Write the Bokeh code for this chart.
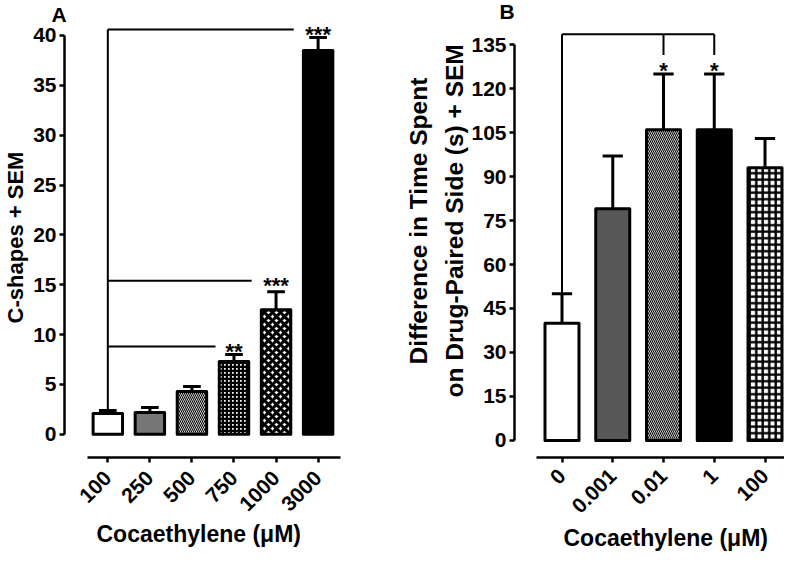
import math
import numpy as np
from bokeh.plotting import figure
from bokeh.layouts import row
from bokeh.models import Range1d, FixedTicker, ColumnDataSource, Title
from bokeh.core.properties import value
from bokeh.embed import file_html
from bokeh.resources import INLINE

FONT = "Liberation Sans"

# ---------------- data: panel A ----------------
a_labels = ["100", "250", "500", "750", "1000", "3000"]
a_means = [2.1, 2.2, 4.3, 7.3, 12.5, 38.5]
a_sem = [0.3, 0.5, 0.5, 0.7, 1.8, 1.3]
a_yticks = [0, 5, 10, 15, 20, 25, 30, 35, 40]
a_sig_targets = [3, 4, 5]
a_sig_levels = [8.8, 15.4, 40.6]
a_sig_marks = ["**", "***", "***"]

# ---------------- data: panel B ----------------
b_labels = ["0", "0.001", "0.01", "1", "100"]
b_means = [40, 79, 106, 106, 93]
b_sem = [10, 18, 19, 19, 10]
b_yticks = [0, 15, 30, 45, 60, 75, 90, 105, 120, 135]
b_sig_targets = [2, 3]
b_sig_level = 138.5
b_sig_drop = 131.5
b_sig_marks = ["*", "*"]

x_title = "Cocaethylene (\u03bcM)"
a_ytitle = "C-shapes + SEM"
b_ytitle = ["Difference in Time Spent", "on Drug-Paired Side (s) + SEM"]

# ---------------- styles ----------------
a_fill = ["white", "#777777", "white", "white", "white", "black"]
a_hatch = ["blank", "blank", "left_diagonal_line", "cross", "diagonal_cross", "blank"]
a_hscale = [6, 6, 4, 4, 8, 6]
a_hweight = [1, 1, 1.1, 2.6, 3.2, 1]

b_fill = ["white", "#585858", "white", "black", "white"]
b_hatch = ["blank", "blank", "left_diagonal_line", "blank", "cross"]
b_hscale = [6, 6, 4, 6, 6.5]
b_hweight = [1, 1, 1.1, 1, 2.4]


def style_axes(p, yticks, xbounds, ybounds, labels, xstandoff):
    p.outline_line_color = None
    p.xgrid.grid_line_color = None
    p.ygrid.grid_line_color = None
    p.background_fill_color = "white"
    p.border_fill_color = "white"
    for ax in (p.xaxis[0], p.yaxis[0]):
        ax.axis_line_width = 2.5
        ax.axis_line_color = "black"
        ax.major_tick_line_width = 2.5
        ax.major_tick_line_color = "black"
        ax.major_tick_out = 5
        ax.major_tick_in = 0
        ax.minor_tick_line_color = None
        ax.major_label_text_font = FONT
        ax.major_label_text_font_style = "bold"
        ax.major_label_text_font_size = "21px"
        ax.major_label_text_color = "black"
    p.yaxis[0].ticker = FixedTicker(ticks=yticks)
    p.yaxis[0].bounds = ybounds
    p.yaxis[0].major_label_standoff = 3
    p.xaxis[0].ticker = FixedTicker(ticks=list(range(len(labels))))
    p.xaxis[0].major_label_overrides = {i: s for i, s in enumerate(labels)}
    p.xaxis[0].major_label_orientation = math.pi / 4
    p.xaxis[0].bounds = xbounds
    p.xaxis[0].major_label_standoff = xstandoff


def add_title(p, text, side, size, align="left", offset=0, standoff=10,
              valign="bottom"):
    t = Title(text=text, align=align, offset=offset, standoff=standoff,
              vertical_align=valign, text_font=FONT, text_font_style="bold",
              text_font_size=size, text_color="black")
    p.add_layout(t, side)


def bars(p, means, sem, fill, hatch, hscale, hweight, width, cap):
    n = len(means)
    x = np.arange(n)
    m = np.array(means, dtype=float)
    top = m + np.array(sem, dtype=float)
    src = ColumnDataSource(dict(x=x, top=m, fill=fill, hatch=hatch,
                                hscale=hscale, hweight=hweight))
    p.vbar(x="x", top="top", bottom=0, width=width, source=src,
           fill_color="fill", line_color="black", line_width=3,
           line_join="round", hatch_pattern="hatch", hatch_color="black",
           hatch_scale="hscale", hatch_weight="hweight")
    p.segment(x0=x, y0=m, x1=x, y1=top, line_color="black", line_width=3)
    p.segment(x0=x - cap, y0=top, x1=x + cap, y1=top, line_color="black",
              line_width=3)
    return top


# ---------------- panel A ----------------
pa = figure(width=362, height=554, x_range=Range1d(-1.03, 5.58),
            y_range=Range1d(-2.32, 41.8), output_backend="svg",
            toolbar_location=None, min_border_left=59, min_border_right=20,
            min_border_top=12, min_border_bottom=96)
style_axes(pa, a_yticks, (-0.49, 5.54), (0, 40), a_labels, 12)
pa.yaxis[0].axis_label = a_ytitle
pa.yaxis[0].axis_label_text_font = FONT
pa.yaxis[0].axis_label_text_font_style = "bold"
pa.yaxis[0].axis_label_text_font_size = "22px"
pa.yaxis[0].axis_label_text_color = "black"
pa.yaxis[0].axis_label_standoff = 2
a_top = bars(pa, a_means, a_sem, a_fill, a_hatch, a_hscale, a_hweight, 0.70, 0.21)

a_lvl = np.array(a_sig_levels)
a_tg = np.array(a_sig_targets, dtype=float)
a_gap = np.array([0.16 + 0.14 * len(s) for s in a_sig_marks])
pa.segment(x0=[0], y0=[a_top[0]], x1=[0], y1=[a_lvl.max()], line_color="black", line_width=2)
pa.segment(x0=np.zeros(len(a_lvl)), y0=a_lvl, x1=a_tg - a_gap, y1=a_lvl,
           line_color="black", line_width=2)
pa.text(x=a_tg, y=a_lvl, text=a_sig_marks, text_font=value(FONT),
        text_font_style="bold", text_font_size="22px", text_align="center",
        text_baseline="middle", y_offset=5, text_color="black")
add_title(pa, "A", "above", "21px", align="left", offset=-13, standoff=-16)
add_title(pa, x_title, "below", "23px", align="left", offset=32, standoff=1,
          valign="top")

# ---------------- panel B ----------------
pb = figure(width=422, height=554, x_range=Range1d(-0.936, 4.384),
            y_range=Range1d(-5.825, 144.25), output_backend="svg",
            toolbar_location=None, min_border_left=152, min_border_right=0,
            min_border_top=17, min_border_bottom=91)
style_axes(pb, b_yticks, (-0.5, 4.384), (0, 135), b_labels, 10)
b_top = bars(pb, b_means, b_sem, b_fill, b_hatch, b_hscale, b_hweight, 0.67, 0.20)

b_tg = np.array(b_sig_targets, dtype=float)
pb.segment(x0=[0], y0=[b_top[0]], x1=[0], y1=[b_sig_level], line_color="black", line_width=2)
pb.segment(x0=[0], y0=[b_sig_level], x1=[b_tg.max()], y1=[b_sig_level],
           line_color="black", line_width=2)
pb.segment(x0=b_tg, y0=np.full(len(b_tg), b_sig_level), x1=b_tg,
           y1=np.full(len(b_tg), b_sig_drop), line_color="black", line_width=2)
pb.text(x=b_tg, y=np.full(len(b_tg), b_sig_drop), text=b_sig_marks,
        text_font=value(FONT), text_font_style="bold", text_font_size="22px",
        text_align="center", text_baseline="middle", y_offset=16,
        text_color="black")
add_title(pb, "B", "above", "21px", align="left", offset=-15, standoff=-10)
add_title(pb, b_ytitle[1], "left", "24.5px", align="left", offset=60, standoff=2)
add_title(pb, b_ytitle[0], "left", "24.5px", align="left", offset=93, standoff=12)
add_title(pb, x_title, "below", "23px", align="left", offset=49, standoff=4,
          valign="top")

layout = row(pa, pb)
open("out.html", "w").write(file_html(layout, INLINE))
